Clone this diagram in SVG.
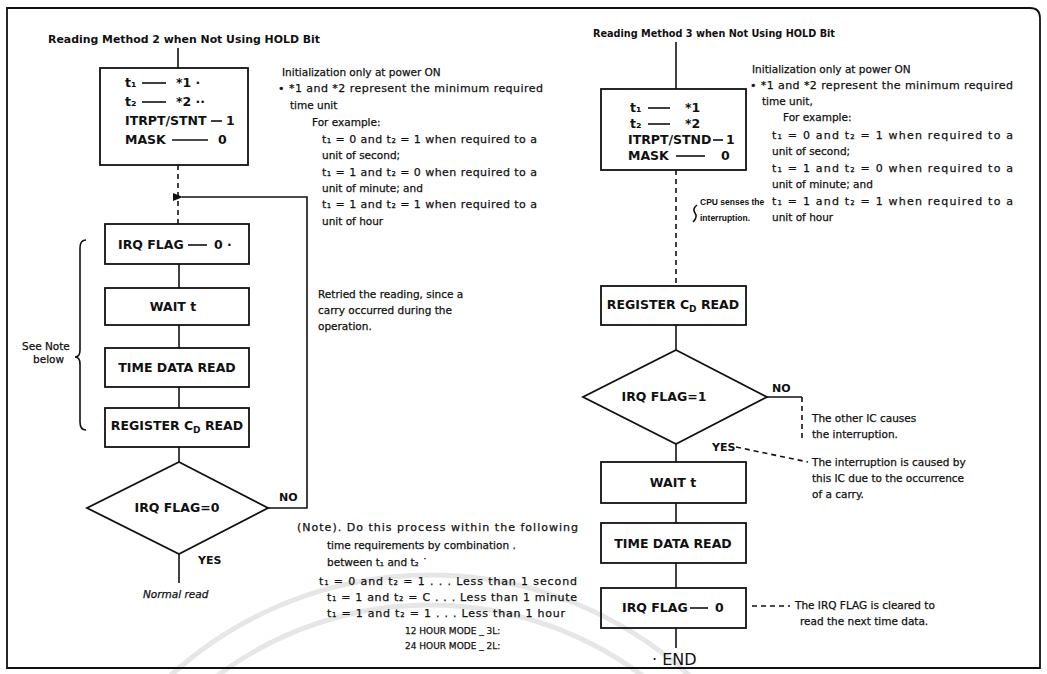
<svg xmlns="http://www.w3.org/2000/svg" width="1047" height="674" viewBox="0 0 1047 674">
<style>
.box{fill:none;stroke:#111;stroke-width:1.8}
.ln{fill:none;stroke:#111;stroke-width:1.6}
.dash{stroke-dasharray:5 4}
.t{font-family:"DejaVu Sans","Liberation Sans",sans-serif;font-size:10.5px;fill:#111;stroke:#111;stroke-width:0.25}
.w{font-size:11px}
.s{font-size:9px}
.n{font-family:"Liberation Sans",Arial,sans-serif;font-size:8.5px;font-weight:bold;fill:#111}
.b{font-family:"DejaVu Sans","Liberation Sans",sans-serif;font-size:11px;font-weight:bold;fill:#111}
.bt{font-family:"DejaVu Sans","Liberation Sans",sans-serif;font-size:12.5px;font-weight:bold;fill:#111}
.c{text-anchor:middle}
.wm{fill:none;stroke:#e6e6e6;stroke-width:5}
</style>
<defs>
<marker id="ah" markerWidth="10" markerHeight="8" refX="1" refY="4" orient="auto-start-reverse" markerUnits="userSpaceOnUse">
<path d="M0,4 L10,0 L10,8 Z" fill="#111"/>
</marker>
</defs>
<rect width="1047" height="674" fill="#fff"/>
<circle class="wm" cx="430" cy="960" r="385"/>
<circle class="wm" cx="430" cy="960" r="355"/>
<path class="box" d="M7,8 H1030 Q1040,8 1040,18 V668 H7 Z"/>

<!-- LEFT FLOW -->
<text class="b" x="48" y="43" textLength="272" lengthAdjust="spacingAndGlyphs">Reading Method 2 when Not Using HOLD Bit</text>
<g id="l-init">
<rect class="box" x="100" y="68" width="148" height="97"/>
<text class="bt" x="125" y="87">t₁</text><line class="ln" x1="142" y1="83" x2="166" y2="83"/><text class="bt" x="176" y="87">*1 ·</text>
<text class="bt" x="125" y="106">t₂</text><line class="ln" x1="142" y1="102" x2="166" y2="102"/><text class="bt" x="176" y="106">*2 ··</text>
<text class="bt" x="125" y="125">ITRPT/STNT</text><line class="ln" x1="211" y1="121" x2="222" y2="121"/><text class="bt" x="226" y="125">1</text>
<text class="bt" x="125" y="144">MASK</text><line class="ln" x1="172" y1="140" x2="208" y2="140"/><text class="bt" x="218" y="144">0</text>
</g>
<g id="l-irq0"><rect class="box" x="105" y="224" width="144" height="40"/>
<text class="bt" x="118" y="249">IRQ FLAG</text><line class="ln" x1="188" y1="245" x2="207" y2="245"/><text class="bt" x="214" y="249">0 ·</text></g>
<g id="l-wait"><rect class="box" x="105" y="288" width="144" height="37"/><text class="bt c" x="173" y="311">WAIT t</text></g>
<g id="l-tdr"><rect class="box" x="105" y="348" width="144" height="39"/><text class="bt c" x="177" y="372">TIME DATA READ</text></g>
<g id="l-reg"><rect class="box" x="105" y="408" width="144" height="39"/><text class="bt c" x="177" y="430">REGISTER C<tspan font-size="9" dy="3">D</tspan><tspan dy="-3"> READ</tspan></text></g>
<g id="l-dia"><polygon class="box" points="179,462 268,508 179,554 87,508"/><text class="bt c" x="177" y="512">IRQ FLAG=0</text></g>
<g id="l-normal"><text class="t" x="143" y="598" font-style="italic">Normal read</text></g>

<g id="connectors">
<line class="ln" x1="178" y1="48" x2="178" y2="68"/>
<line class="ln dash" x1="178" y1="165" x2="178" y2="224"/>
<polyline class="ln" points="268,508 307,508 307,197 182,197" marker-end="url(#ah)"/>
<line class="ln" x1="179" y1="264" x2="179" y2="288"/>
<line class="ln" x1="179" y1="325" x2="179" y2="348"/>
<line class="ln" x1="179" y1="387" x2="179" y2="408"/>
<line class="ln" x1="179" y1="447" x2="179" y2="462"/>
<line class="ln" x1="179" y1="554" x2="179" y2="583"/>
<path class="ln" d="M86,240 Q80,240 80,248 L80,350 Q80,357 75,357 Q80,357 80,364 L80,422 Q80,430 86,430"/>
<line class="ln" x1="676" y1="42" x2="676" y2="89"/>
<line class="ln dash" x1="676" y1="170" x2="676" y2="286"/>
<line class="ln" x1="676" y1="325" x2="676" y2="350"/>
<polyline class="ln" points="767,397 802,397"/>
<line class="ln dash" x1="802" y1="397" x2="802" y2="442"/>
<line class="ln dash" x1="736" y1="447" x2="808" y2="462"/>
<line class="ln" x1="676" y1="444" x2="676" y2="462"/>
<line class="ln" x1="676" y1="503" x2="676" y2="523"/>
<line class="ln" x1="676" y1="563" x2="676" y2="588"/>
<line class="ln" x1="676" y1="628" x2="676" y2="648"/>
<line class="ln dash" x1="752" y1="606" x2="790" y2="606"/>
<path class="ln" d="M697,205 Q692,209 695,213 Q698,217 693,222" stroke-width="1.2"/>
</g>

<text class="b" x="279" y="501">NO</text>
<text class="b" x="198" y="564">YES</text>
<text class="t" x="22" y="350">See Note</text>
<text class="t" x="33" y="363">below</text>

<g id="l-notes">
<text class="t" x="282" y="76">Initialization only at power ON</text>
<text class="t w" x="278" y="92" textLength="265">• *1 and *2 represent the minimum required</text>
<text class="t" x="290" y="109">time unit</text>
<text class="t" x="312" y="126">For example:</text>
<text class="t w" x="322" y="143" textLength="215">t₁ = 0 and t₂ = 1 when required to a</text>
<text class="t" x="322" y="159">unit of second;</text>
<text class="t w" x="322" y="176" textLength="215">t₁ = 1 and t₂ = 0 when required to a</text>
<text class="t" x="322" y="192">unit of minute; and</text>
<text class="t w" x="322" y="208" textLength="215">t₁ = 1 and t₂ = 1 when required to a</text>
<text class="t" x="322" y="225">unit of hour</text>
<text class="t" x="318" y="298">Retried the reading, since a</text>
<text class="t" x="318" y="314">carry occurred during the</text>
<text class="t" x="318" y="330">operation.</text>
<text class="t w" x="297" y="531" textLength="281">(Note).  Do this process within the following</text>
<text class="t" x="327" y="549">time requirements by combination .</text>
<text class="t" x="327" y="566">between t₁ and t₂ ˙</text>
<text class="t w" x="319" y="585" textLength="258">t₁  = 0 and t₂ = 1 . . . Less than 1 second</text>
<text class="t w" x="327" y="601" textLength="250">t₁  = 1 and t₂ = C . . . Less than 1 minute</text>
<text class="t w" x="327" y="617" textLength="238">t₁  = 1 and t₂ = 1 . . . Less than 1 hour</text>
<text class="t s" x="405" y="634">12 HOUR MODE _ 3L:</text>
<text class="t s" x="405" y="649">24 HOUR MODE _ 2L:</text>
</g>

<!-- RIGHT FLOW -->
<text class="b" x="593" y="37" textLength="242" lengthAdjust="spacingAndGlyphs">Reading Method 3 when Not Using HOLD Bit</text>
<g id="r-init">
<rect class="box" x="601" y="89" width="145" height="81"/>
<text class="bt" x="630" y="112">t₁</text><line class="ln" x1="648" y1="108" x2="670" y2="108"/><text class="bt" x="685" y="112">*1</text>
<text class="bt" x="630" y="128">t₂</text><line class="ln" x1="648" y1="124" x2="670" y2="124"/><text class="bt" x="685" y="128">*2</text>
<text class="bt" x="628" y="144">ITRPT/STND</text><line class="ln" x1="713" y1="140" x2="723" y2="140"/><text class="bt" x="726" y="144">1</text>
<text class="bt" x="628" y="160">MASK</text><line class="ln" x1="676" y1="156" x2="705" y2="156"/><text class="bt" x="721" y="160">0</text>
</g>
<g id="r-reg"><rect class="box" x="601" y="286" width="145" height="39"/><text class="bt c" x="673" y="309">REGISTER C<tspan font-size="9" dy="3">D</tspan><tspan dy="-3"> READ</tspan></text></g>
<g id="r-dia"><polygon class="box" points="676,350 767,397 676,444 583,397"/><text class="bt c" x="664" y="401">IRQ FLAG=1</text></g>
<g id="r-wait"><rect class="box" x="601" y="462" width="145" height="41"/><text class="bt c" x="673" y="487">WAIT t</text></g>
<g id="r-tdr"><rect class="box" x="601" y="523" width="145" height="40"/><text class="bt c" x="673" y="548">TIME DATA READ</text></g>
<g id="r-irq0"><rect class="box" x="601" y="588" width="145" height="40"/>
<text class="bt" x="622" y="612">IRQ FLAG</text><line class="ln" x1="690" y1="608" x2="708" y2="608"/><text class="bt" x="715" y="612">0</text></g>
<g id="r-end"><text font-family="DejaVu Sans,Liberation Sans,sans-serif" font-size="16" fill="#111" x="652" y="665">· END</text></g>

<text class="b" x="772" y="392">NO</text>
<text class="b" x="712" y="451">YES</text>
<g id="r-notes">
<text class="t" x="752" y="73">Initialization only at power ON</text>
<text class="t w" x="750" y="89" textLength="263">• *1 and *2 represent the minimum required</text>
<text class="t" x="762" y="105">time unit,</text>
<text class="t" x="783" y="121">For example:</text>
<text class="t w" x="772" y="139" textLength="241">t₁ = 0 and t₂ = 1 when required to a</text>
<text class="t" x="772" y="155">unit of second;</text>
<text class="t w" x="772" y="172" textLength="241">t₁ = 1 and t₂ = 0 when required to a</text>
<text class="t" x="772" y="188">unit of minute; and</text>
<text class="t w" x="772" y="205" textLength="241">t₁ = 1 and t₂ = 1 when required to a</text>
<text class="t" x="772" y="221">unit of hour</text>
<text class="n" x="700" y="205">CPU senses the</text>
<text class="n" x="700" y="221">interruption.</text>
<text class="t" x="812" y="422">The other IC causes</text>
<text class="t" x="812" y="438">the interruption.</text>
<text class="t" x="812" y="466">The interruption is caused by</text>
<text class="t" x="812" y="482">this IC due to the occurrence</text>
<text class="t" x="812" y="498">of a carry.</text>
<text class="t" x="795" y="609">The IRQ FLAG is cleared to</text>
<text class="t" x="800" y="625">read the next time data.</text>
</g>
</svg>
